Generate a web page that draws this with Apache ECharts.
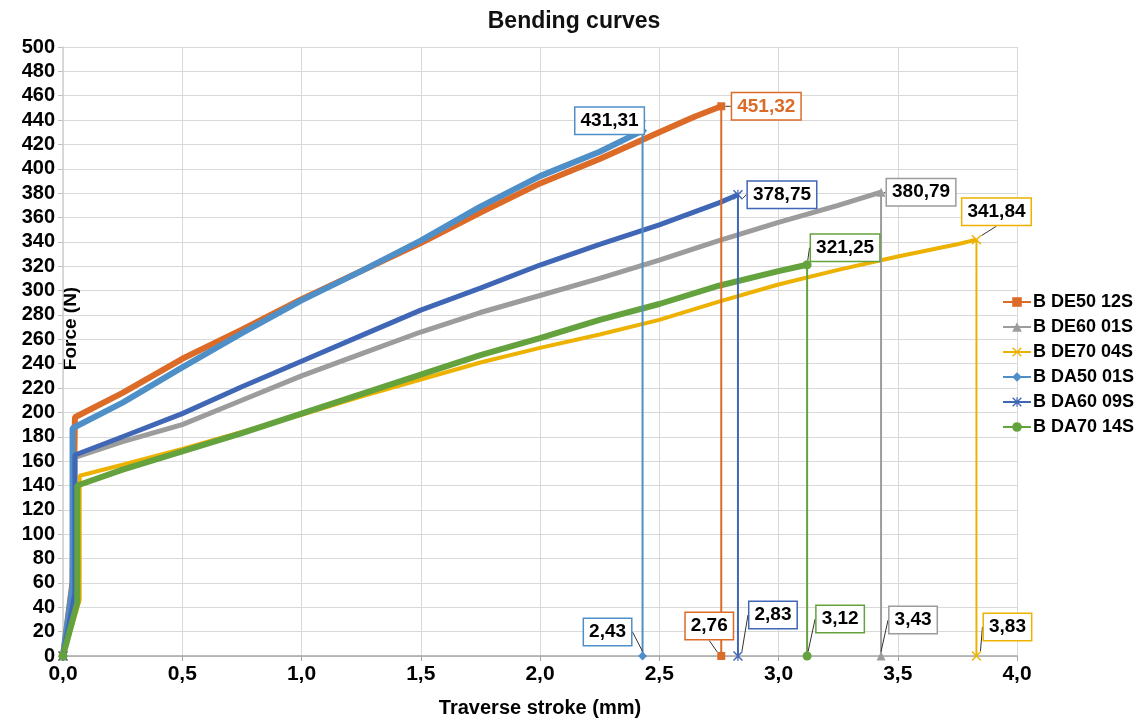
<!DOCTYPE html>
<html>
<head>
<meta charset="utf-8">
<script src="https://cdn.jsdelivr.net/npm/echarts@6/dist/echarts.min.js"></script>
<style>
html,body{margin:0;padding:0;background:#fff;}
#chart{width:1148px;height:723px;}
</style>
</head>
<body>
<div id="chart"></div>
<script>
// ---- data (stroke mm, force N) ----
const seriesNames = ['B DE50 12S', 'B DE60 01S', 'B DE70 04S', 'B DA50 01S', 'B DA60 09S', 'B DA70 14S'];

const curveDE50 = [[0,0],[0.04,61],[0.05,196],[0.25,216],[0.5,244],[0.75,268],[1.0,293],[1.25,316],[1.5,339],[1.75,364],[2.0,388],[2.25,408],[2.5,430],[2.65,443],[2.76,451.32]];
const curveDE60 = [[0,0],[0.05,55],[0.05,163],[0.25,176],[0.5,190],[0.75,210],[1.0,230],[1.25,248],[1.5,266],[1.75,282],[2.0,296],[2.25,310],[2.5,325],[2.75,341],[3.0,356],[3.25,370],[3.43,380.79]];
const curveDE70 = [[0,0],[0.07,46],[0.07,148],[0.25,157],[0.5,170],[0.75,184],[1.0,198],[1.25,213],[1.5,227],[1.75,241],[2.0,253],[2.25,264],[2.5,276],[2.75,291],[3.0,305],[3.25,317],[3.5,328],[3.75,338],[3.83,341.84]];
const curveDA50 = [[0,0],[0.04,58],[0.04,187],[0.25,208],[0.5,237],[0.75,265],[1.0,292],[1.25,316],[1.5,341],[1.75,369],[2.0,394],[2.25,414],[2.43,431.31]];
const curveDA60 = [[0,0],[0.05,52],[0.05,165],[0.25,180],[0.5,199],[0.75,221],[1.0,242],[1.25,263],[1.5,284],[1.75,302],[2.0,321],[2.25,338],[2.5,354],[2.75,372],[2.83,378.75]];
const curveDA70 = [[0,0],[0.06,44],[0.06,140],[0.25,153],[0.5,168],[0.75,183],[1.0,199],[1.25,215],[1.5,231],[1.75,247],[2.0,261],[2.25,276],[2.5,289],[2.75,304],[3.0,316],[3.12,321.25]];

const breakStroke = [2.76, 3.43, 3.83, 2.43, 2.83, 3.12];
const breakForce  = [451.32, 380.79, 341.84, 431.31, 378.75, 321.25];

// ---- styling ----
const curves = [curveDE50, curveDE60, curveDE70, curveDA50, curveDA60, curveDA70];
const colors = ['#DC6B28', '#9C9C9C', '#EDB100', '#4F8FC8', '#4067B6', '#64A23E'];
const xPath = 'path://M1,0L5,4L9,0L10,1L6,5L10,9L9,10L5,6L1,10L0,9L4,5L0,1Z';
const starPath = 'path://M1,0L5,4L9,0L10,1L6,5L10,9L9,10L5,6L1,10L0,9L4,5L0,1Z M4.4,0L5.6,0L5.6,10L4.4,10Z';
const symbols = ['rect', 'triangle', xPath, 'diamond', starPath, 'circle'];
const symSizes = [8, 9, 10, 9, 10, 9];
const curveWidths = [6, 5, 4, 6, 5, 6];
const labelTextColors = ['#DC6B28', '#000', '#000', '#000', '#000', '#000'];
// [peak label dx,dy], [stroke label dx,dy]
const labelShift = [
  [[45, 0], [-12, -30]],
  [[40, 0], [32, -36]],
  [[20, -28], [31, -29]],
  [[-33, -10], [-35, -24]],
  [[44, 0], [35, -41]],
  [[38, -17], [33, -37]]
];

const FONT = 'Liberation Sans';
const fmt = (v, d) => v.toFixed(d).replace('.', ',');

const series = [];
seriesNames.forEach((name, i) => {
  // drop line at break point (peak -> zero) with labels
  series.push({
    name: name,
    type: 'line',
    data: [[breakStroke[i], breakForce[i]], [breakStroke[i], 0]].map((v, k) => ({
      value: v,
      label: { color: k === 0 ? labelTextColors[i] : '#000' }
    })),
    symbol: symbols[i],
    symbolSize: symSizes[i],
    showSymbol: true,
    lineStyle: { color: colors[i], width: 2 },
    itemStyle: { color: colors[i] },
    z: 3,
    label: {
      show: true,
      position: 'inside',
      fontFamily: FONT,
      fontWeight: 'bold',
      fontSize: 19,
      backgroundColor: '#fff',
      borderColor: colors[i],
      borderWidth: 1.5,
      padding: [4, 5, 3, 5],
      formatter: (p) => p.dataIndex === 0 ? fmt(p.value[1], 2) : fmt(p.value[0], 2)
    },
    labelLine: { show: true, lineStyle: { color: '#333', width: 1 } },
    labelLayout: (params) => {
      const s = labelShift[i][params.dataIndex];
      return { dx: s[0], dy: s[1] };
    },
    emphasis: { disabled: true },
    animation: false
  });
  // loading curve
  series.push({
    name: name,
    type: 'line',
    data: curves[i],
    symbol: symbols[i],
    symbolSize: (v, p) => p.dataIndex === 0 ? symSizes[i] : 0,
    showSymbol: true,
    lineStyle: { color: colors[i], width: curveWidths[i] },
    itemStyle: { color: colors[i] },
    z: 2,
    emphasis: { disabled: true },
    animation: false
  });
});

const chart = echarts.init(document.getElementById('chart'), null, { renderer: 'canvas' });
chart.setOption({
  animation: false,
  backgroundColor: '#fff',
  title: {
    text: 'Bending curves',
    left: 'center',
    top: 5,
    textStyle: { fontFamily: FONT, fontWeight: 'bold', fontSize: 23, color: '#111' }
  },
  legend: {
    data: seriesNames,
    orient: 'vertical',
    left: 997,
    top: 288,
    itemWidth: 28,
    itemHeight: 12,
    itemGap: 7,
    textStyle: { fontFamily: FONT, fontWeight: 'bold', fontSize: 18, color: '#000', padding: [0, 0, 0, -3] },
    selectedMode: false
  },
  grid: { left: 63, right: 131, top: 47, bottom: 67, containLabel: false, outerBoundsMode: 'none' },
  xAxis: {
    type: 'value',
    min: 0, max: 4, interval: 0.5,
    name: 'Traverse stroke (mm)',
    nameLocation: 'middle',
    nameGap: 42,
    nameMoveOverlap: false,
    nameTextStyle: { fontFamily: FONT, fontWeight: 'bold', fontSize: 20, color: '#000' },
    axisLine: { show: true, lineStyle: { color: '#a6a6a6', width: 1.5 } },
    axisTick: { show: true, length: 5, lineStyle: { color: '#a6a6a6' } },
    axisLabel: { fontFamily: FONT, fontWeight: 'bold', fontSize: 21, color: '#000', margin: 8,
      formatter: (v) => fmt(v, 1) },
    splitLine: { show: true, lineStyle: { color: '#d9d9d9', width: 1 } }
  },
  yAxis: {
    type: 'value',
    min: 0, max: 500, interval: 20,
    name: 'Force (N)',
    nameLocation: 'middle',
    nameGap: -17,
    nameRotate: 90,
    nameMoveOverlap: false,
    nameTextStyle: { fontFamily: FONT, fontWeight: 'bold', fontSize: 19, color: '#000', padding: [0, 0, 0, 46] },
    axisLine: { show: true, lineStyle: { color: '#d0d0d0', width: 1.5 } },
    axisTick: { show: true, length: 5, lineStyle: { color: '#bfbfbf' } },
    axisLabel: { fontFamily: FONT, fontWeight: 'bold', fontSize: 20, color: '#000', margin: 8 },
    splitLine: { show: true, lineStyle: { color: '#d9d9d9', width: 1 } }
  },
  series: series
});
</script>
</body>
</html>
